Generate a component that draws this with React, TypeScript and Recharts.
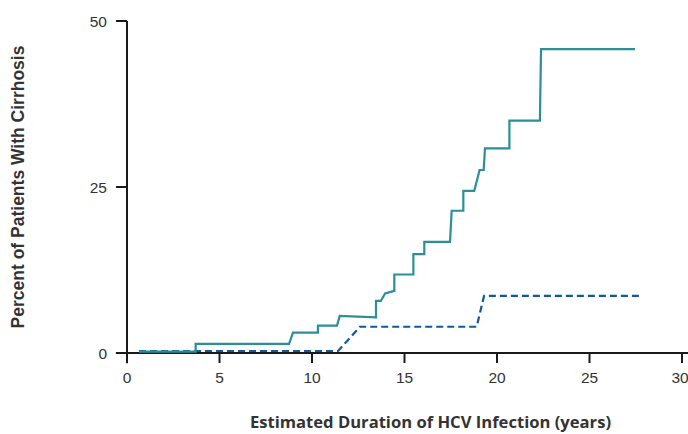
import React from "react";
import { LineChart, Line, XAxis, YAxis, ReferenceLine, Label } from "recharts";

// Cumulative incidence curves
const coTimes = [0.65, 3.71, 3.71, 8.76, 8.97, 10.32, 10.32, 11.35, 11.5, 13.46, 13.46, 13.72, 13.95, 14.45, 14.45, 15.48, 15.48, 16.07, 16.07, 17.46, 17.55, 18.18, 18.18, 18.77, 19.06, 19.28, 19.35, 20.67, 20.67, 22.32, 22.38, 27.46];
const coPct = [0.2, 0.2, 1.36, 1.36, 3.08, 3.08, 4.13, 4.13, 5.58, 5.38, 7.84, 7.84, 8.96, 9.35, 11.82, 11.82, 14.89, 14.89, 16.74, 16.74, 21.42, 21.42, 24.43, 24.43, 27.56, 27.56, 30.83, 30.83, 34.99, 34.99, 45.76, 45.76];

const monoTimes = [0.65, 11.41, 12.59, 18.9, 19.3, 27.73];
const monoPct = [0.3, 0.3, 3.95, 3.95, 8.6, 8.6];

const xTicks = [0, 5, 10, 15, 20, 25, 30];
const yTicks = [0, 25, 50];

const xTitle = "Estimated Duration of HCV Infection (years)";
const yTitle = "Percent of Patients With Cirrhosis";

const coData = coTimes.map((x, i) => ({ x, y: coPct[i] }));
const monoData = monoTimes.map((x, i) => ({ x, y: monoPct[i] }));

const TEAL = "#2a8f96";
const BLUE = "#0f5a9e";
const AXIS = "#1a1a1a";
const TICK_FONT = "'Liberation Sans', Arial, sans-serif";

const XTick = (props: any) => {
  const { x, y, payload } = props;
  return (
    <text x={x} y={y} dy={12} textAnchor="middle" fontFamily={TICK_FONT} fontSize={15.5} fill="#333">
      {payload.value}
    </text>
  );
};

const YTick = (props: any) => {
  const { x, y, payload } = props;
  return (
    <text x={x} y={y} dy={5.5} textAnchor="end" fontFamily={TICK_FONT} fontSize={15.5} fill="#333">
      {payload.value}
    </text>
  );
};

const XTitle = (props: any) => {
  const { viewBox } = props;
  const cx = viewBox.x + viewBox.width / 2 + 26;
  return (
    <text x={cx} y={428} textAnchor="middle" fontFamily="'Open Sans', Lato, sans-serif" fontWeight={700} fontSize={16.6} fill="#333">
      {xTitle}
    </text>
  );
};

const YTitle = (props: any) => {
  const { viewBox } = props;
  const cy = viewBox.y + viewBox.height / 2;
  return (
    <text
      x={24}
      y={cy}
      transform={`rotate(-90 24 ${cy})`}
      textAnchor="middle"
      fontFamily={TICK_FONT}
      fontWeight={700}
      fontSize={17.5}
      fill="#333"
    >
      {yTitle}
    </text>
  );
};

export default function App() {
  return (
    <div style={{ position: "absolute", left: 0, top: 0, width: 688, height: 434, background: "#fff" }}>
      <LineChart width={688} height={434} margin={{ top: 21, right: 6, bottom: 51, left: 0 }}>
        <XAxis
          dataKey="x"
          type="number"
          domain={[0, 30]}
          ticks={xTicks}
          axisLine={false}
          tickLine={{ stroke: AXIS, strokeWidth: 2 }}
          tickSize={10}
          tickMargin={8}
          tick={<XTick />}
          height={30}
        >
          <Label content={<XTitle />} />
        </XAxis>
        <YAxis
          type="number"
          domain={[0, 50]}
          ticks={yTicks}
          axisLine={false}
          tickLine={{ stroke: AXIS, strokeWidth: 2 }}
          tickSize={11}
          tickMargin={9}
          tick={<YTick />}
          width={127}
        >
          <Label content={<YTitle />} />
        </YAxis>
        <ReferenceLine
          segment={[{ x: 0, y: -1.55 }, { x: 0, y: 50 }]}
          stroke={AXIS}
          strokeWidth={2}
          ifOverflow="visible"
        />
        <ReferenceLine
          segment={[{ x: -0.6, y: 0 }, { x: 30.4, y: 0 }]}
          stroke={AXIS}
          strokeWidth={2}
          ifOverflow="visible"
        />
        <Line
          data={monoData}
          dataKey="y"
          type="linear"
          stroke={BLUE}
          strokeWidth={2.2}
          strokeDasharray="7 4"
          dot={false}
          isAnimationActive={false}
        />
        <Line
          data={coData}
          dataKey="y"
          type="linear"
          stroke={TEAL}
          strokeWidth={2.2}
          dot={false}
          isAnimationActive={false}
        />
      </LineChart>
    </div>
  );
}
